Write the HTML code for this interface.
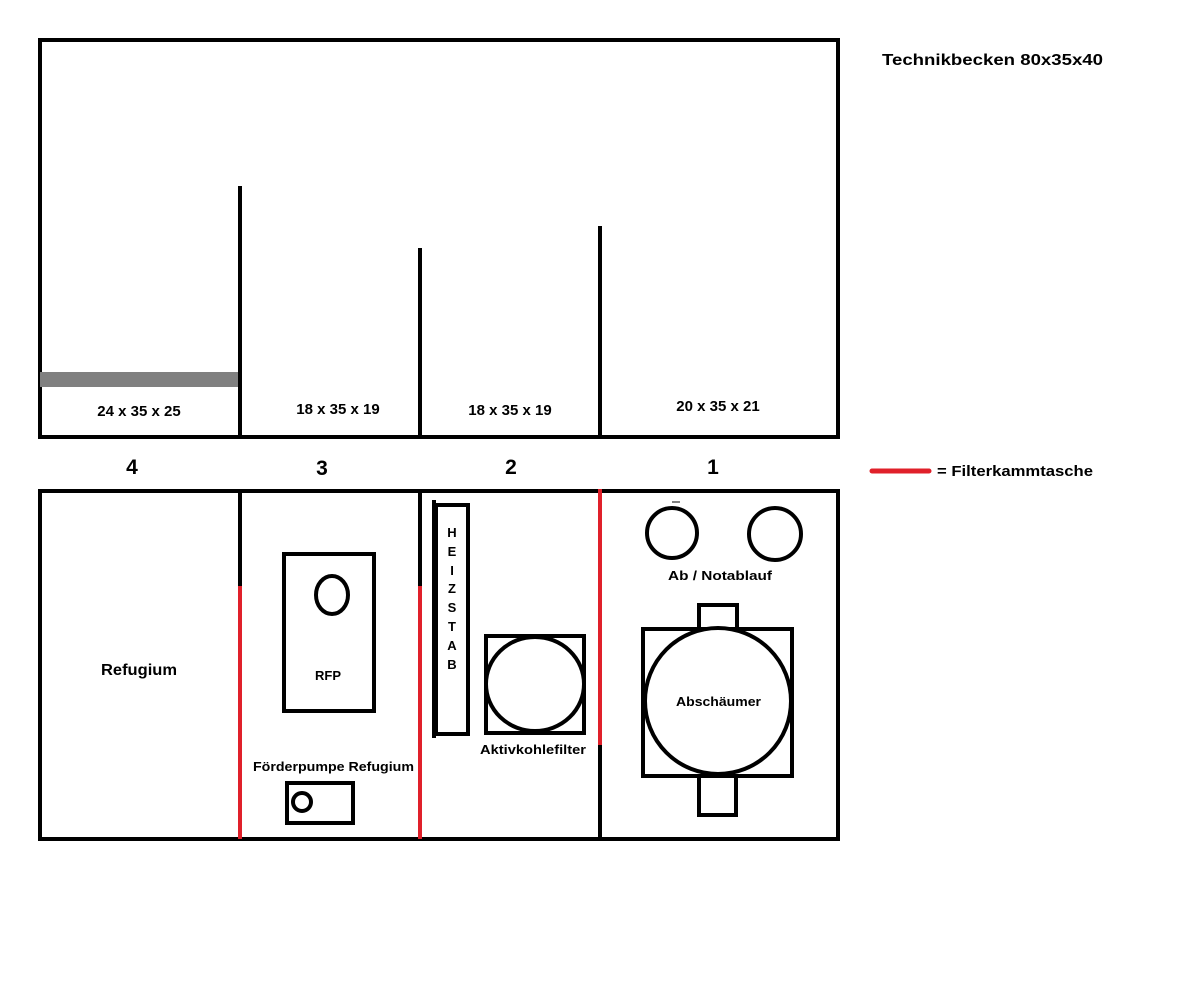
<!DOCTYPE html>
<html><head><meta charset="utf-8"><style>html,body{margin:0;padding:0;background:#fff}svg{display:block}</style></head>
<body>
<svg width="1193" height="1006" viewBox="0 0 1193 1006" xmlns="http://www.w3.org/2000/svg" font-family="Liberation Sans, sans-serif" font-weight="bold">
<rect width="1193" height="1006" fill="#fff"/>
<g fill="none" stroke="#000" stroke-width="4">
<rect x="40" y="40" width="798" height="397"/>
<line x1="240" y1="186" x2="240" y2="437"/>
<line x1="420" y1="248" x2="420" y2="437"/>
<line x1="600" y1="226" x2="600" y2="437"/>
<rect x="40" y="491" width="798" height="348"/>
<line x1="240" y1="491" x2="240" y2="586"/>
<line x1="420" y1="491" x2="420" y2="586"/>
<line x1="600" y1="745" x2="600" y2="839"/>
<line x1="434" y1="500" x2="434" y2="738"/>
<rect x="436" y="505" width="32" height="229"/>
<rect x="486" y="636" width="98" height="97"/>
<ellipse cx="535" cy="684" rx="49" ry="47"/>
<rect x="284" y="554" width="90" height="157"/>
<ellipse cx="332" cy="595" rx="16" ry="19"/>
<rect x="287" y="783" width="66" height="40"/>
<circle cx="302" cy="802" r="9"/>
<circle cx="672" cy="533" r="25"/>
<circle cx="775" cy="534" r="26"/>
<rect x="699" y="605" width="38" height="24"/>
<rect x="699" y="776" width="37" height="39"/>
<rect x="643" y="629" width="149" height="147"/>
<ellipse cx="718" cy="701" rx="73" ry="73" fill="#fff"/>
</g>
<line x1="672" y1="502" x2="680" y2="502" stroke="#000" stroke-width="1"/>
<rect x="40" y="372" width="198" height="15" fill="#808080"/>
<g stroke="#e0202a" stroke-width="4">
<line x1="240" y1="586" x2="240" y2="839"/>
<line x1="420" y1="586" x2="420" y2="839"/>
<line x1="600" y1="489" x2="600" y2="745"/>
</g>
<line x1="872" y1="471" x2="929" y2="471" stroke="#e0202a" stroke-width="5" stroke-linecap="round"/>
<g fill="#000" font-size="15">
<text x="882" y="65" font-size="16" textLength="221" lengthAdjust="spacingAndGlyphs">Technikbecken 80x35x40</text>
<text x="937" y="476" textLength="156" lengthAdjust="spacingAndGlyphs">= Filterkammtasche</text>
<text x="139" y="416" text-anchor="middle">24 x 35 x 25</text>
<text x="338" y="414" text-anchor="middle">18 x 35 x 19</text>
<text x="510" y="415" text-anchor="middle">18 x 35 x 19</text>
<text x="718" y="411" text-anchor="middle">20 x 35 x 21</text>
<text x="132" y="474" font-size="21" text-anchor="middle">4</text>
<text x="322" y="475" font-size="21" text-anchor="middle">3</text>
<text x="511" y="474" font-size="21" text-anchor="middle">2</text>
<text x="713" y="474" font-size="21" text-anchor="middle">1</text>
<text x="101" y="675" font-size="16" textLength="76" lengthAdjust="spacingAndGlyphs">Refugium</text>
<text x="315" y="680" font-size="13">RFP</text>
<text x="253" y="771" font-size="13" textLength="161" lengthAdjust="spacingAndGlyphs">Förderpumpe Refugium</text>
<text x="480" y="754" font-size="13" textLength="106" lengthAdjust="spacingAndGlyphs">Aktivkohlefilter</text>
<text x="668" y="580" font-size="13" textLength="104" lengthAdjust="spacingAndGlyphs">Ab / Notablauf</text>
<text x="676" y="706" font-size="13" textLength="85" lengthAdjust="spacingAndGlyphs">Abschäumer</text>
<g font-size="13" text-anchor="middle">
<text x="452" y="537">H</text><text x="452" y="556">E</text><text x="452" y="575">I</text><text x="452" y="593">Z</text><text x="452" y="612">S</text><text x="452" y="631">T</text><text x="452" y="650">A</text><text x="452" y="669">B</text>
</g>
</g>
</svg>
</body></html>
